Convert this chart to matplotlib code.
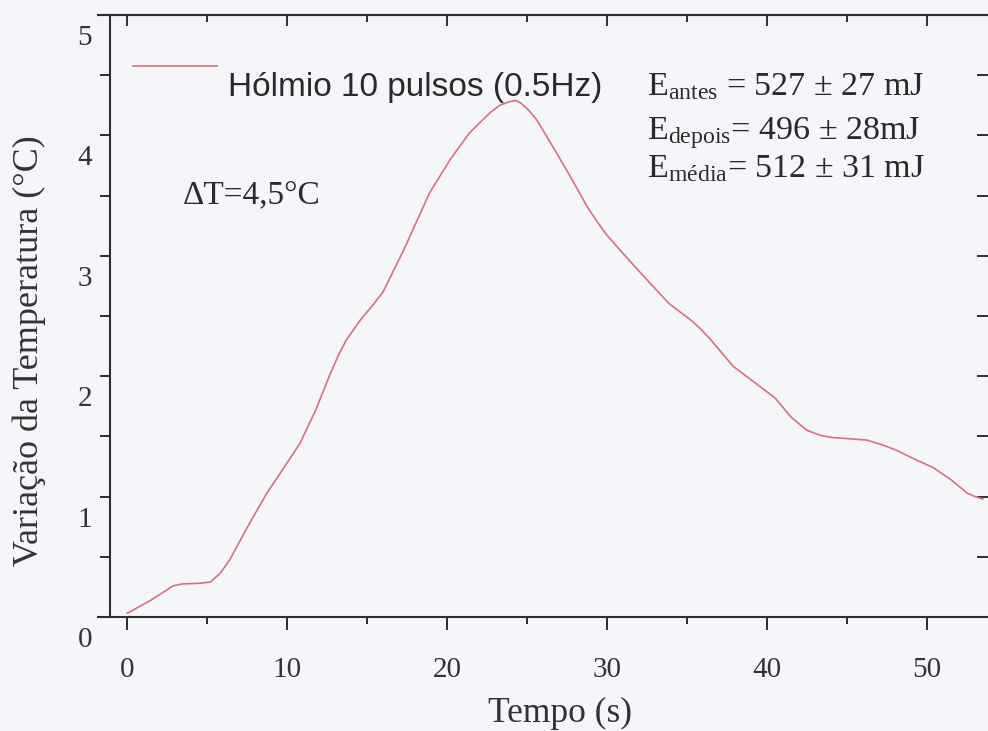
import numpy as np
import matplotlib.pyplot as plt
import matplotlib.transforms as mtransforms
from matplotlib.ticker import MultipleLocator, NullLocator

# tempo (s) e variacao da temperatura (C)
tempo = [0, 1.5, 2.9, 3.5, 4.5, 5.2, 5.8, 6.4, 7.5, 8.7, 9.8, 10.8, 11.8,
         12.7, 13.2, 13.7, 14.6, 15.3, 16.0, 17.3, 18.9, 20.2, 21.4, 22.7,
         23.3, 23.9, 24.3, 24.6, 25.1, 25.6, 26.6, 27.7, 28.75, 29.4, 30.0,
         31.0, 31.4, 32.5, 33.9, 34.6, 35.2, 35.8, 36.5, 37.9, 39.2, 40.5,
         41.5, 42.5, 43.3, 44.1, 45.2, 46.2, 47.2, 48.0, 49.4, 50.4, 51.5,
         52.5, 53.0, 53.5]
variacao = [0.03, 0.14, 0.26, 0.275, 0.28, 0.29, 0.36, 0.47, 0.74, 1.02,
            1.24, 1.44, 1.72, 2.02, 2.17, 2.30, 2.47, 2.58, 2.70, 3.05, 3.52,
            3.80, 4.02, 4.19, 4.25, 4.28, 4.29, 4.27, 4.21, 4.13, 3.91, 3.66,
            3.41, 3.28, 3.17, 3.02, 2.96, 2.80, 2.60, 2.53, 2.47, 2.40, 2.30,
            2.08, 1.95, 1.82, 1.66, 1.55, 1.51, 1.49, 1.48, 1.47, 1.43, 1.39,
            1.30, 1.24, 1.14, 1.03, 1.0, 0.98]

legenda = "Hólmio 10 pulsos (0.5Hz)"
energias = [r"E$_{\mathrm{antes}}$ = 527 ± 27 mJ",
            r"E$_{\mathrm{depois}}$= 496 ± 28mJ",
            r"E$_{\mathrm{média}}$= 512 ± 31 mJ"]
delta_t = "ΔT=4,5°C"

cor_linha = "#d8707f"
cor_eixo = "#2e2e2e"
cor_texto = "#2a2a2a"
cor_fundo = "#f4f6fa"

plt.rcParams['font.family'] = ['Liberation Serif', 'DejaVu Serif']
plt.rcParams['mathtext.fontset'] = 'custom'
plt.rcParams['mathtext.rm'] = 'Liberation Serif'
plt.rcParams['mathtext.it'] = 'Liberation Serif:italic'


def main():
	fig = plt.figure(figsize=(9.88, 7.31), dpi=100, facecolor=cor_fundo)
	ax = fig.add_axes([98 / 988, 114 / 731, 890 / 988, 602 / 731])
	ax.set_facecolor(cor_fundo)

	ax.plot(tempo, variacao, color=cor_linha, lw=1.2,
	        solid_joinstyle='round', solid_capstyle='round')

	ax.set_xlim(-1.8125, 53.81)
	ax.set_ylim(0, 5)

	# eixos
	ax.spines['left'].set_position(('data', -1.06))
	ax.spines['right'].set_visible(False)
	for s in ['left', 'top', 'bottom']:
		ax.spines[s].set_color(cor_eixo)
		ax.spines[s].set_linewidth(1.5)

	ax.xaxis.set_major_locator(MultipleLocator(10))
	ax.xaxis.set_minor_locator(MultipleLocator(5))
	ax.yaxis.set_major_locator(MultipleLocator(1))
	ax.yaxis.set_minor_locator(MultipleLocator(0.5))

	ax.tick_params(which='both', direction='out', color=cor_eixo, width=1.4,
	               top=False, right=False)
	ax.tick_params(axis='x', which='major', length=9, pad=20, labelsize=21,
	               labelcolor='#333333')
	ax.tick_params(axis='x', which='minor', length=5)
	ax.tick_params(axis='y', which='both', length=7)
	ax.tick_params(axis='y', which='major', pad=6, labelsize=21,
	               labelcolor='#333333')

	desloc = mtransforms.ScaledTranslation(0, -0.20, fig.dpi_scale_trans)
	for lab in ax.get_yticklabels():
		lab.set_transform(lab.get_transform() + desloc)

	# marcas internas em cima e a direita
	topo = ax.secondary_xaxis('top')
	topo.xaxis.set_major_locator(MultipleLocator(10))
	topo.xaxis.set_minor_locator(MultipleLocator(5))
	topo.tick_params(which='both', direction='in', color=cor_eixo, width=1.4,
	                 labeltop=False)
	topo.tick_params(which='major', length=8)
	topo.tick_params(which='minor', length=5)
	topo.spines['top'].set_color(cor_eixo)
	topo.spines['top'].set_linewidth(1.5)

	direita = ax.secondary_yaxis('right')
	direita.yaxis.set_major_locator(MultipleLocator(0.5))
	direita.yaxis.set_minor_locator(NullLocator())
	direita.tick_params(which='major', direction='in', color=cor_eixo,
	                    width=1.4, length=8, labelright=False)
	direita.spines['right'].set_visible(False)

	ax.set_xlabel("Tempo (s)", fontsize=25.5, color='#333333')
	ax.xaxis.set_label_coords(0.519, -0.133)
	ax.set_ylabel("Variação da Temperatura (°C)", fontsize=26, color='#333333')
	ax.yaxis.set_label_coords(-0.058, 0.442)

	# legenda
	ax.plot([0.375, 5.6], [4.58, 4.58], color=cor_linha, lw=1.2)
	ax.text(6.31, 4.325, legenda, family='Liberation Sans', fontsize=24,
	        color=cor_texto, va='baseline')

	for texto, y in zip(energias, [4.33, 3.97, 3.65]):
		ax.text(32.5, y, texto, fontsize=24.5, color=cor_texto, va='baseline')

	ax.text(3.5, 3.44, delta_t, fontsize=24, color=cor_texto, va='baseline')

	plt.savefig("out.png", dpi=100, facecolor=cor_fundo)


if __name__ == "__main__":
	main()
